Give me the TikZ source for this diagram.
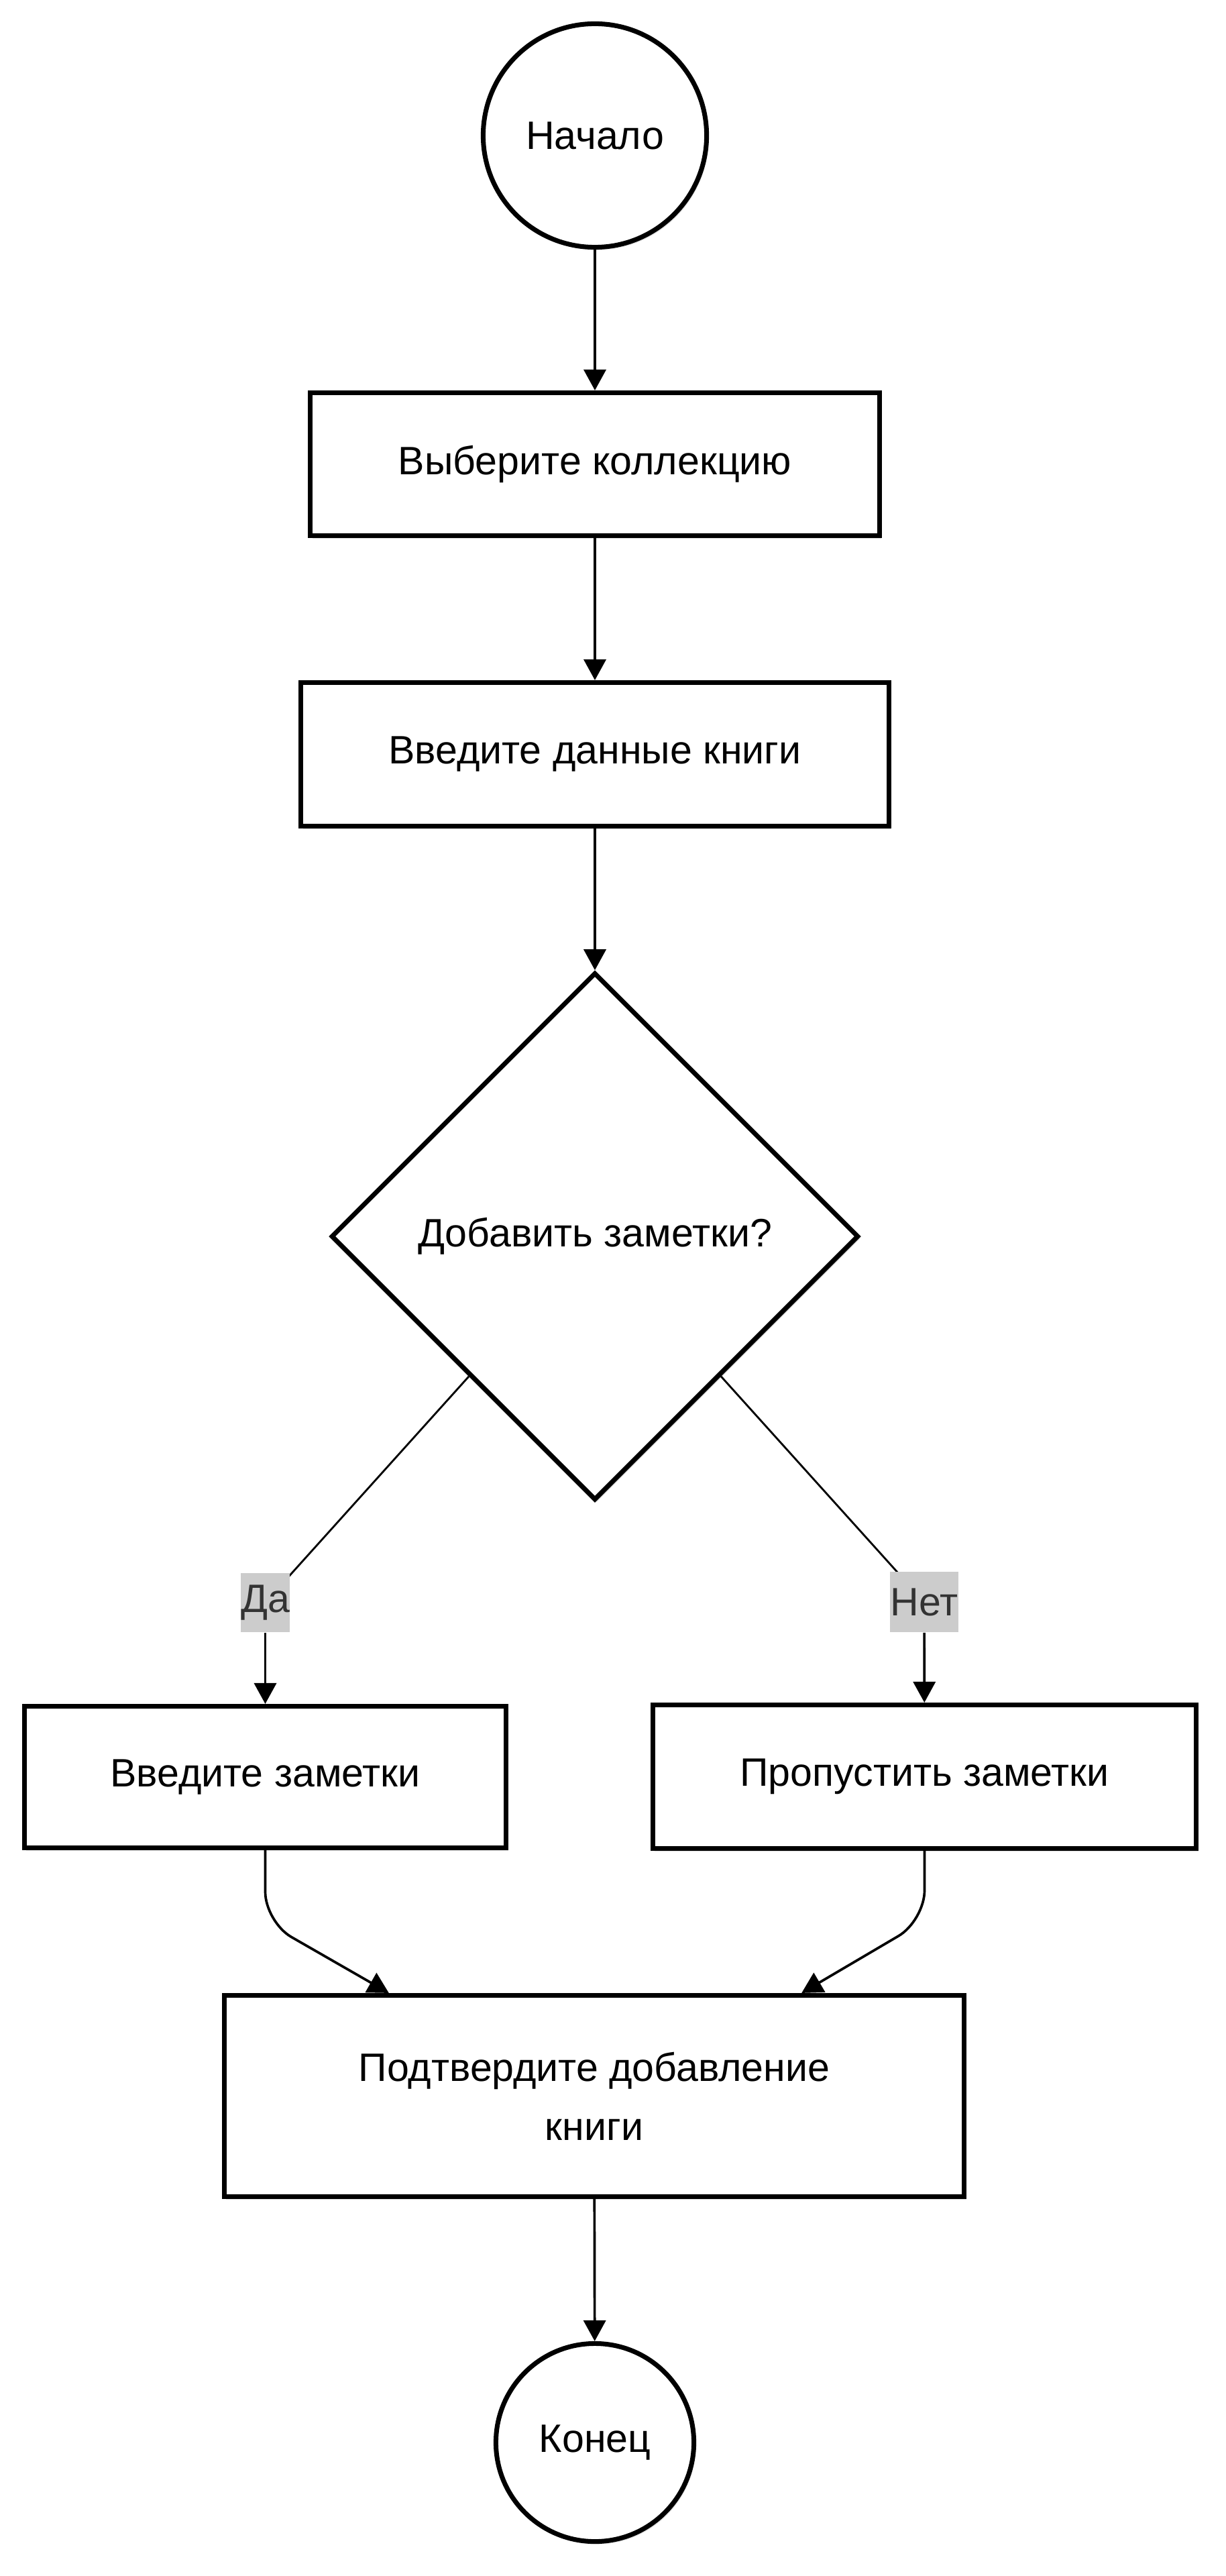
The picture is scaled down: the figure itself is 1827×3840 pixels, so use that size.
\documentclass[tikz,border=0pt]{standalone}
\usepackage{fontspec}
\setmainfont{Liberation Sans}
\usetikzlibrary{arrows.meta,shapes.geometric,shadows,calc}
\pgfdeclarelayer{bg}
\pgfsetlayers{bg,main}
\definecolor{lblfill}{HTML}{CCCCCC}
\definecolor{lbltext}{HTML}{333333}
\begin{document}
\begin{tikzpicture}[x=0.01cm,y=-0.01cm,
  every node/.style={font=\fontsize{16.8pt}{25pt}\selectfont, text=black},
  shad/.style={drop shadow={shadow xshift=0.03cm, shadow yshift=-0.04cm, opacity=0.12, fill=black}},
  term/.style={circle, draw, line width=2pt, fill=white, inner sep=0pt, shad},
  proc/.style={rectangle, draw, line width=2pt, fill=white, inner sep=0pt, shad, align=center},
  dec/.style={diamond, draw, line width=2pt, fill=white, inner sep=0pt, aspect=1, shad},
  lbl/.style={fill=lblfill, text=lbltext, inner sep=0pt},
  conn/.style={line width=1.05pt, -{Triangle[length=0.31cm,width=0.33cm]}},
  diag/.style={line width=0.8pt}
]
\useasboundingbox (0,0) rectangle (1827,3840);

\node[term, minimum size=3.33cm] (start) at (887,202) {Начало};
\node[proc, minimum width=8.48cm, minimum height=2.13cm] (b1) at (887,692) {Выберите коллекцию};
\node[proc, minimum width=8.76cm, minimum height=2.14cm] (b2) at (887,1124.5) {Введите данные книги};
\node[dec, minimum width=7.86cm, minimum height=7.86cm] (q) at (887,1843) {Добавить заметки?};
\node[proc, minimum width=7.18cm, minimum height=2.11cm] (n1) at (395.5,2649) {Введите заметки};
\node[proc, minimum width=8.10cm, minimum height=2.14cm] (n2) at (1378.5,2648.5) {Пропустить заметки};
\node[proc, minimum width=11.03cm, minimum height=3.0cm] (conf) at (886,3124.5) {Подтвердите добавление\\книги};
\node[term, minimum size=2.95cm] (end) at (887,3641) {Конец};
\node[lbl, minimum width=0.73cm, minimum height=0.88cm] (da) at (395.5,2389) {Да};
\node[lbl, minimum width=1.02cm, minimum height=0.90cm] (net) at (1378,2388) {Нет};

\draw[conn] (start) -- (b1);
\draw[conn] (b1) -- (b2);
\draw[conn] (b2) -- (q);
\begin{pgfonlayer}{bg}
\draw[diag] (q) -- (da.center);
\draw[diag] (q) -- (net.center);
\end{pgfonlayer}
\draw[conn] (da) -- (n1);
\draw[conn] (net) -- (n2);
\draw[conn, rounded corners=0.45cm] (n1.south) -- ++(0,107) -- ([xshift=-3.06cm]conf.north);
\draw[conn, rounded corners=0.45cm] (n2.south) -- ++(0,104) -- ([xshift=3.09cm]conf.north);
\draw[conn] (conf) -- (end);
\end{tikzpicture}
\end{document}
